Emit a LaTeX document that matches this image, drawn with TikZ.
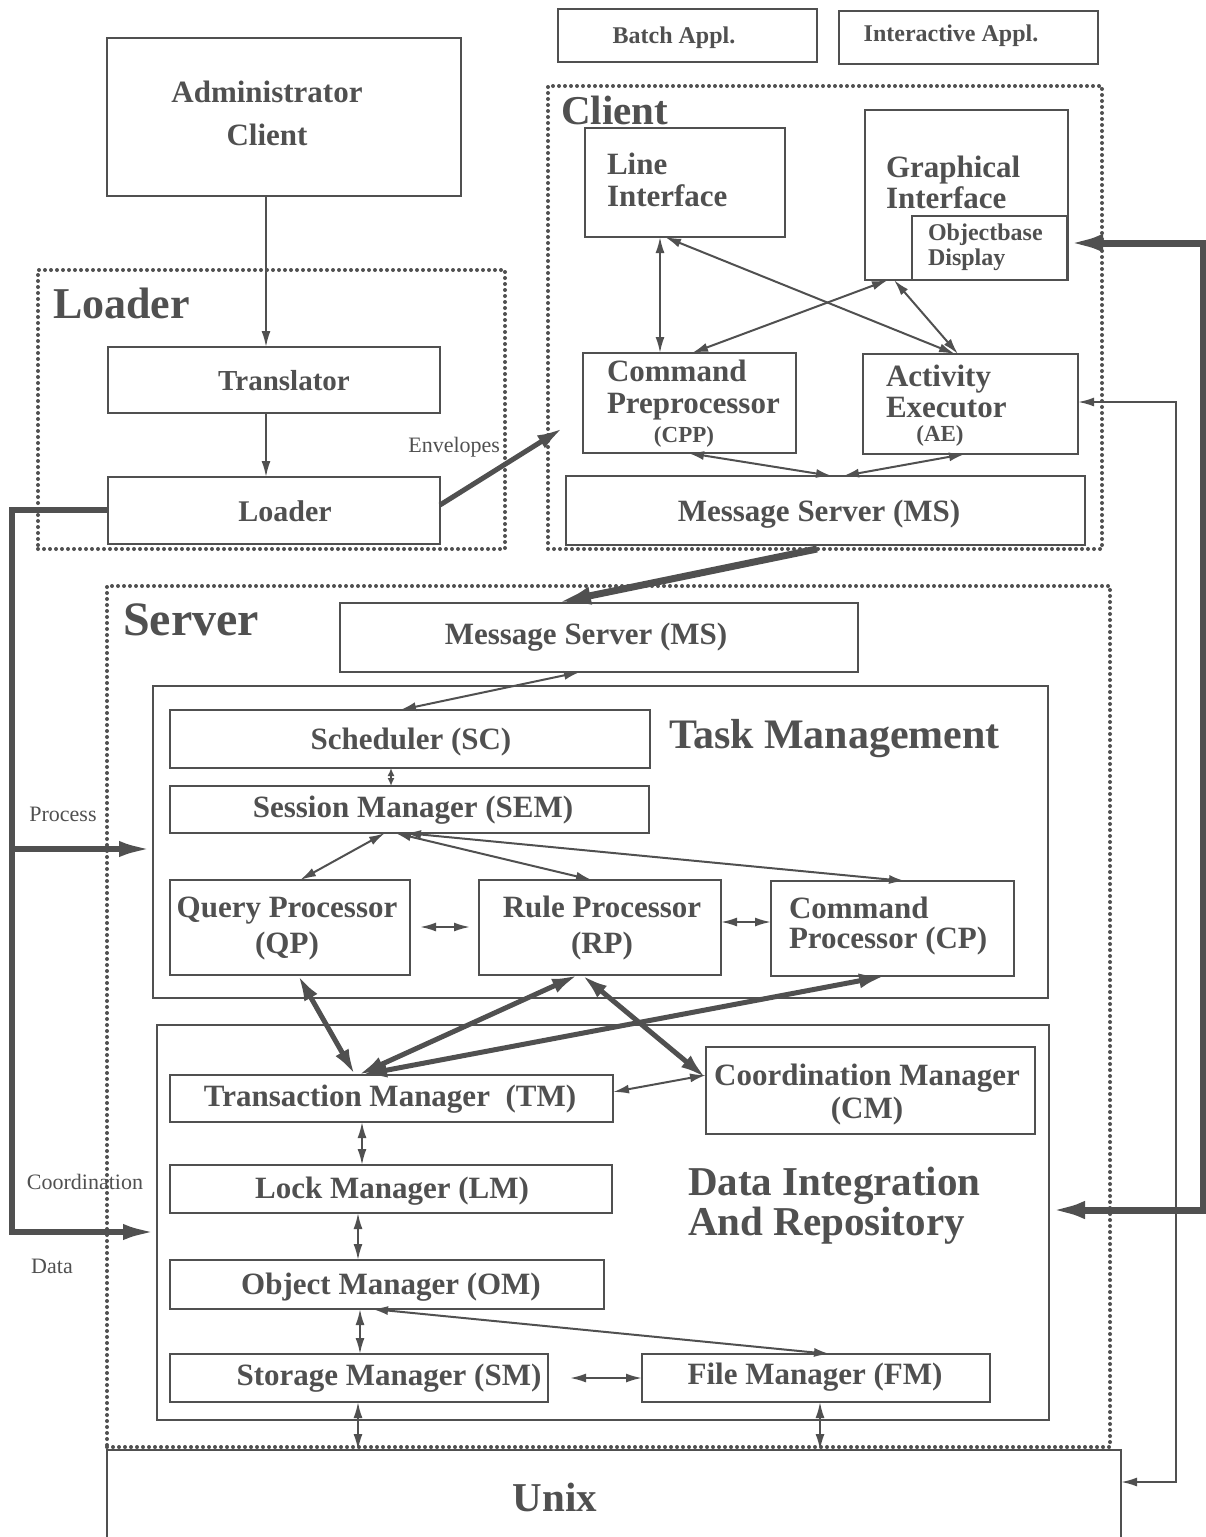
\documentclass[tikz,border=0pt]{standalone}
\usepackage{fontspec}
\setmainfont{Liberation Serif}
\usetikzlibrary{arrows.meta}
\definecolor{ink}{RGB}{80,80,80}
\newcommand\fz[1]{\fontsize{#1}{#1}\selectfont}
\newcommand\fb[1]{\fontsize{#1}{#1}\selectfont\bfseries}
\newcommand\mkbox[6]{\node[#6, anchor=north west, minimum width={(#4)-(#2)}, minimum height={(#5)-(#3)}] (#1) at (#2,#3) {};}
\begin{document}
\begin{tikzpicture}[x=1pt,y=-1pt,
  bx/.style={draw=ink, line width=2.4pt, inner sep=0pt, outer sep=0pt, rectangle},
  ctr/.style={draw=ink, line width=4pt, dash pattern=on 0pt off 6pt, line cap=round, inner sep=0pt, outer sep=0pt, rectangle},
  t/.style={text=ink, inner sep=0pt, outer sep=0pt, font=\fb{31}},
  thinar/.style={draw=ink, line width=2pt, >={Latex[length=16pt,width=9pt]}},
  tinyar/.style={draw=ink, line width=2pt, >={Latex[length=8pt,width=7pt]}},
  thickar/.style={draw=ink, line width=5pt, >={Latex[length=26pt,width=15pt]}},
  vthick/.style={draw=ink, line width=7pt, line join=miter, >={Latex[length=36pt,width=18pt]}},
  lthick/.style={draw=ink, line width=6pt, line join=miter, >={Latex[length=34pt,width=16pt]}}
]
\useasboundingbox (0,0) rectangle (1206,1537);
% containers
\mkbox{ldrC}{38}{270}{505}{549}{ctr}
\mkbox{cliC}{548}{86}{1102}{549}{ctr}
\mkbox{srvC}{107}{586}{1110}{1447}{ctr}
% boxes
\mkbox{batch}{558}{9}{817}{62}{bx}
\mkbox{inter}{839}{11}{1098}{64}{bx}
\mkbox{adm}{107}{38}{461}{196}{bx}
\mkbox{tr}{108}{347}{440}{413}{bx}
\mkbox{ldr}{108}{477}{440}{544}{bx}
\mkbox{li}{585}{128}{785}{237}{bx}
\mkbox{gi}{865}{110}{1068}{280}{bx}
\mkbox{od}{912}{216}{1067}{280}{bx}
\mkbox{cpp}{583}{353}{796}{453}{bx}
\mkbox{ae}{863}{354}{1078}{454}{bx}
\mkbox{cms}{566}{476}{1085}{545}{bx}
\mkbox{sms}{340}{603}{858}{672}{bx}
\mkbox{taskM}{153}{686}{1048}{998}{bx}
\mkbox{sc}{170}{710}{650}{768}{bx}
\mkbox{sem}{170}{786}{649}{833}{bx}
\mkbox{qp}{170}{880}{410}{975}{bx}
\mkbox{rp}{479}{880}{721}{975}{bx}
\mkbox{cp}{771}{881}{1014}{976}{bx}
\mkbox{dir}{157}{1025}{1049}{1420}{bx}
\mkbox{trm}{170}{1075}{613}{1122}{bx}
\mkbox{cm}{706}{1047}{1035}{1134}{bx}
\mkbox{lm}{170}{1165}{612}{1213}{bx}
\mkbox{om}{170}{1260}{604}{1309}{bx}
\mkbox{sm}{170}{1354}{548}{1402}{bx}
\mkbox{fm}{642}{1354}{990}{1402}{bx}
\mkbox{unix}{107}{1450}{1121}{1542}{bx}
% texts
\node[t, font=\fb{24}] (tBatch) at (674,38) {Batch Appl.};
\node[t, font=\fb{24}] (tInter) at (951,36) {Interactive Appl.};
\node[t, font=\fontsize{31}{43}\selectfont\bfseries, align=center] (tAdm) at (267,113) {Administrator\\Client};
\node[t, font=\fb{44}, anchor=west] (tLdrC) at (53,303) {Loader};
\node[t, font=\fb{29}] (tTr) at (284,381) {Translator};
\node[t, font=\fb{30}] (tLdr) at (285,511) {Loader};
\node[t, font=\fz{22}, anchor=east] (tEnv) at (500,447) {Envelopes};
\node[t, font=\fb{41}, anchor=west] (tCli) at (561,110) {Client};
\node[t, font=\fontsize{31}{32}\selectfont\bfseries, align=left, anchor=west] (tLi) at (607,180) {Line\\Interface};
\node[t, font=\fontsize{31}{31}\selectfont\bfseries, align=left, anchor=west] (tGi) at (886,182) {Graphical\\Interface};
\node[t, font=\fontsize{24}{25}\selectfont\bfseries, align=left, anchor=west] (tOd) at (928,247) {Objectbase\\Display};
\node[t, font=\fontsize{31}{32}\selectfont\bfseries, align=left, anchor=west] (tCpp) at (607,390) {Command\\Preprocessor};
\node[t, font=\fb{23}] (tCpp2) at (684,437) {(CPP)};
\node[t, font=\fontsize{31}{31}\selectfont\bfseries, align=left, anchor=west] (tAe) at (886,391) {Activity\\Executor};
\node[t, font=\fb{23}] (tAe2) at (940,436) {(AE)};
\node[t] (tCms) at (819,514) {Message Server (MS)};
\node[t, font=\fb{48}, anchor=west] (tSrv) at (123,620) {Server};
\node[t] (tSms) at (586,637) {Message Server (MS)};
\node[t] (tSc) at (411,742) {Scheduler (SC)};
\node[t, font=\fb{42}, anchor=west] (tTask) at (669,739) {Task Management};
\node[t] (tSem) at (413,810) {Session Manager (SEM)};
\node[t, font=\fontsize{31}{36}\selectfont\bfseries, align=center] (tQp) at (287,929) {Query Processor\\(QP)};
\node[t, font=\fontsize{31}{36}\selectfont\bfseries, align=center] (tRp) at (602,928) {Rule Processor\\(RP)};
\node[t, font=\fontsize{31}{30}\selectfont\bfseries, align=left, anchor=west] (tCp) at (789,926) {Command\\Processor (CP)};
\node[t] (tTrm) at (390,1099) {Transaction Manager~~(TM)};
\node[t, font=\fontsize{31}{33}\selectfont\bfseries, align=center] (tCm) at (867,1095) {Coordination Manager\\(CM)};
\node[t] (tLm) at (392,1191) {Lock Manager (LM)};
\node[t, font=\fontsize{41}{40}\selectfont\bfseries, align=left, anchor=west] (tDir) at (688,1206) {Data Integration\\And Repository};
\node[t] (tOm) at (391,1287) {Object Manager (OM)};
\node[t] (tSm) at (389,1378) {Storage Manager (SM)};
\node[t] (tFm) at (815,1377) {File Manager (FM)};
\node[t, font=\fb{41}] (tUnix) at (555,1497) {Unix};
\node[t, font=\fz{22}] (tProc) at (63,814) {Process};
\node[t, font=\fz{22}] (tCoord) at (85,1182) {Coordination};
\node[t, font=\fz{22}] (tData) at (52,1266) {Data};
% coordinates
\coordinate (envtip) at (563,428);
\coordinate (R1) at (1203,243);
\coordinate (R2) at (1203,1210);
\coordinate (r1) at (1176,402);
\coordinate (r2) at (1176,1482);
\coordinate (L1) at (12,510);
\coordinate (L2) at (12,1232);
\coordinate (L3) at (12,849);
% connectors
\draw[thinar,->] (adm.south -| 266,0) -- (tr.north -| 266,0);
\draw[thinar,->] (tr.south -| 266,0) -- (ldr.north -| 266,0);
\draw[thickar,->] (ldr.east |- 0,505) -- (envtip);
\draw[thinar,<->] (li.south -| 660,0) -- (cpp.north -| 660,0);
\draw[thinar,<->] (li.south -| 665,0) -- (ae.north -| 955,0);
\draw[thinar,<->] (gi.south -| 888,0) -- (cpp.north -| 692,0);
\draw[thinar,<->] (gi.south -| 894,0) -- (ae.north -| 958,0);
\draw[thinar,<->] (cpp.south -| 688,0) -- (cms.north -| 832,0);
\draw[thinar,<->] (ae.south -| 965,0) -- (cms.north -| 843,0);
\draw[vthick,->] (cliC.south -| 817,0) -- (sms.north -| 555,0);
\draw[thinar,<->] (sms.south -| 580,0) -- (sc.north -| 400,0);
\draw[tinyar,<->] (sc.south -| 391,0) -- (sem.north -| 391,0);
\draw[thinar,<->] (sem.south -| 385,0) -- (qp.north -| 300,0);
\draw[thinar,<->] (sem.south -| 395,0) -- (rp.north -| 592,0);
\draw[thinar,<->] (sem.south -| 405,0) -- (cp.north -| 905,0);
\draw[thinar,<->] ([xshift=10pt]qp.east |- 0,927) -- ([xshift=-9pt]rp.west |- 0,927);
\draw[thinar,<->] (rp.east |- 0,922) -- (cp.west |- 0,922);
\draw[thickar,<->] (qp.south -| 298,0) -- (trm.north -| 355,0);
\draw[thickar,<->] (rp.south -| 578,0) -- (trm.north -| 358,0);
\draw[thickar,<->] (cp.south -| 885,0) -- (trm.north -| 361,0);
\draw[thickar,<->] (rp.south -| 582,0) -- (cm.west |- 0,1078);
\draw[thinar,<->] (trm.east |- 0,1092) -- (cm.west |- 0,1075);
\draw[thinar,<->] (trm.south -| 362,0) -- (lm.north -| 362,0);
\draw[thinar,<->] (lm.south -| 358,0) -- (om.north -| 358,0);
\draw[thinar,<->] (om.south -| 360,0) -- (sm.north -| 360,0);
\draw[thinar,<->] (om.south -| 372,0) -- (fm.north -| 830,0);
\draw[thinar,<->] ([xshift=22pt]sm.east |- 0,1378) -- (fm.west |- 0,1378);
\draw[thinar,<->] (sm.south -| 358,0) -- (unix.north -| 358,0);
\draw[thinar,<->] (fm.south -| 820,0) -- (unix.north -| 820,0);
\draw[thinar,<->] (ae.east |- 0,402) -- (r1) -- (r2) -- (unix.east |- 0,1482);
\draw[vthick,<->] (od.east |- 0,243) -- (R1) -- (R2) -- (dir.east |- 0,1210);
\draw[lthick,->] (ldr.west |- 0,510) -- (L1) -- (L2) -- (dir.west |- 0,1232);
\draw[lthick,->] (L3) -- (taskM.west |- 0,849);
\end{tikzpicture}
\end{document}
